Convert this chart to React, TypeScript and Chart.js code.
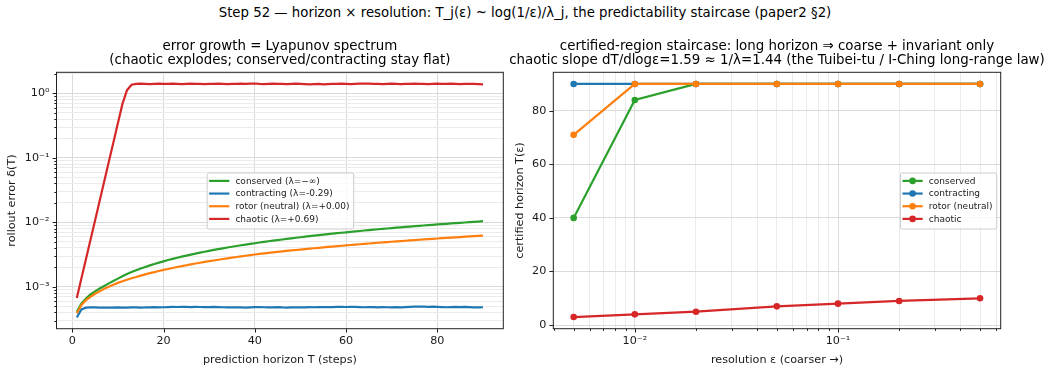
import React, { useEffect, useRef } from 'react';
import { Chart, registerables } from 'chart.js';

Chart.register(...registerables);

const FONT = '"DejaVu Sans", "Liberation Sans", sans-serif';
const GREEN = '#2ca02c';
const BLUE = '#1f77b4';
const ORANGE = '#ff7f0e';
const RED = '#d62728';
const GRID_MAJOR = '#dadada';
const GRID_MINOR = '#ebebeb';
const TEXT = '#1a1a1a';

const suptitle = 'Step 52 — horizon × resolution: T_j(ε) ~ log(1/ε)/λ_j, the predictability staircase (paper2 §2)';
const leftTitles = ['error growth = Lyapunov spectrum', '(chaotic explodes; conserved/contracting stay flat)'];
const rightTitles = [
  'certified-region staircase: long horizon ⇒ coarse + invariant only',
  'chaotic slope dT/dlogε=1.59 ≈ 1/λ=1.44 (the Tuibei-tu / I-Ching long-range law)',
];

// ---------- left panel data ----------
const horizonT = [
  1, 2, 3, 4, 5, 6, 7, 8, 9, 10,
  11, 12, 13, 14, 15, 16, 17, 18, 19, 20,
  21, 22, 23, 24, 25, 26, 27, 28, 29, 30,
  31, 32, 33, 34, 35, 36, 37, 38, 39, 40,
  41, 42, 43, 44, 45, 46, 47, 48, 49, 50,
  51, 52, 53, 54, 55, 56, 57, 58, 59, 60,
  61, 62, 63, 64, 65, 66, 67, 68, 69, 70,
  71, 72, 73, 74, 75, 76, 77, 78, 79, 80,
  81, 82, 83, 84, 85, 86, 87, 88, 89, 90,
];

const conservedErr = [
  0.41e-3, 0.55e-3, 0.66e-3, 0.76e-3, 0.85e-3, 0.94e-3, 1.03e-3, 1.13e-3, 1.23e-3, 1.34e-3,
  1.46e-3, 1.58e-3, 1.69e-3, 1.81e-3, 1.92e-3, 2.03e-3, 2.15e-3, 2.26e-3, 2.37e-3, 2.48e-3,
  2.60e-3, 2.71e-3, 2.82e-3, 2.94e-3, 3.05e-3, 3.16e-3, 3.27e-3, 3.39e-3, 3.50e-3, 3.61e-3,
  3.73e-3, 3.84e-3, 3.95e-3, 4.07e-3, 4.18e-3, 4.29e-3, 4.41e-3, 4.52e-3, 4.63e-3, 4.74e-3,
  4.86e-3, 4.97e-3, 5.08e-3, 5.20e-3, 5.31e-3, 5.42e-3, 5.54e-3, 5.65e-3, 5.76e-3, 5.87e-3,
  5.99e-3, 6.10e-3, 6.21e-3, 6.33e-3, 6.44e-3, 6.55e-3, 6.67e-3, 6.78e-3, 6.89e-3, 7.00e-3,
  7.12e-3, 7.23e-3, 7.34e-3, 7.46e-3, 7.57e-3, 7.68e-3, 7.80e-3, 7.91e-3, 8.02e-3, 8.14e-3,
  8.25e-3, 8.36e-3, 8.47e-3, 8.59e-3, 8.70e-3, 8.81e-3, 8.93e-3, 9.04e-3, 9.15e-3, 9.27e-3,
  9.38e-3, 9.49e-3, 9.60e-3, 9.72e-3, 9.83e-3, 9.94e-3, 10.06e-3, 10.17e-3, 10.28e-3, 10.40e-3,
];

const contractingErr = [
  3.35e-4, 4.45e-4, 4.75e-4, 4.80e-4, 4.78e-4, 4.76e-4, 4.77e-4, 4.75e-4, 4.76e-4, 4.78e-4,
  4.77e-4, 4.75e-4, 4.78e-4, 4.80e-4, 4.77e-4, 4.78e-4, 4.81e-4, 4.83e-4, 4.80e-4, 4.82e-4,
  4.85e-4, 4.88e-4, 4.86e-4, 4.90e-4, 4.87e-4, 4.84e-4, 4.88e-4, 4.86e-4, 4.83e-4, 4.85e-4,
  4.87e-4, 4.84e-4, 4.82e-4, 4.80e-4, 4.78e-4, 4.81e-4, 4.79e-4, 4.76e-4, 4.80e-4, 4.83e-4,
  4.85e-4, 4.82e-4, 4.79e-4, 4.80e-4, 4.83e-4, 4.78e-4, 4.76e-4, 4.80e-4, 4.82e-4, 4.78e-4,
  4.81e-4, 4.84e-4, 4.82e-4, 4.85e-4, 4.83e-4, 4.86e-4, 4.84e-4, 4.87e-4, 4.88e-4, 4.86e-4,
  4.89e-4, 4.87e-4, 4.84e-4, 4.82e-4, 4.85e-4, 4.83e-4, 4.81e-4, 4.84e-4, 4.82e-4, 4.80e-4,
  4.83e-4, 4.81e-4, 4.84e-4, 4.88e-4, 4.93e-4, 4.95e-4, 4.92e-4, 4.89e-4, 4.92e-4, 4.88e-4,
  4.85e-4, 4.82e-4, 4.84e-4, 4.87e-4, 4.85e-4, 4.88e-4, 4.84e-4, 4.81e-4, 4.80e-4, 4.82e-4,
];

const rotorErr = [
  0.39e-3, 0.52e-3, 0.62e-3, 0.70e-3, 0.78e-3, 0.85e-3, 0.93e-3, 1.00e-3, 1.08e-3, 1.15e-3,
  1.22e-3, 1.29e-3, 1.36e-3, 1.42e-3, 1.49e-3, 1.56e-3, 1.63e-3, 1.69e-3, 1.76e-3, 1.83e-3,
  1.89e-3, 1.96e-3, 2.03e-3, 2.09e-3, 2.16e-3, 2.23e-3, 2.30e-3, 2.36e-3, 2.43e-3, 2.50e-3,
  2.56e-3, 2.63e-3, 2.70e-3, 2.76e-3, 2.83e-3, 2.90e-3, 2.97e-3, 3.03e-3, 3.10e-3, 3.17e-3,
  3.23e-3, 3.29e-3, 3.35e-3, 3.41e-3, 3.47e-3, 3.54e-3, 3.60e-3, 3.66e-3, 3.72e-3, 3.78e-3,
  3.84e-3, 3.90e-3, 3.96e-3, 4.02e-3, 4.08e-3, 4.15e-3, 4.21e-3, 4.27e-3, 4.33e-3, 4.39e-3,
  4.45e-3, 4.51e-3, 4.57e-3, 4.63e-3, 4.69e-3, 4.76e-3, 4.82e-3, 4.88e-3, 4.94e-3, 5.00e-3,
  5.06e-3, 5.12e-3, 5.18e-3, 5.24e-3, 5.30e-3, 5.37e-3, 5.43e-3, 5.49e-3, 5.55e-3, 5.61e-3,
  5.67e-3, 5.73e-3, 5.79e-3, 5.85e-3, 5.91e-3, 5.98e-3, 6.04e-3, 6.10e-3, 6.16e-3, 6.22e-3,
];

const chaoticErr = [
  0.67e-3, 1.34e-3, 2.68e-3, 5.36e-3, 1.07e-2, 2.14e-2, 4.29e-2, 8.58e-2, 0.172, 0.343,
  0.686, 1.12, 1.36, 1.40, 1.41, 1.40, 1.39, 1.40, 1.41, 1.40,
  1.40, 1.41, 1.40, 1.39, 1.40, 1.41, 1.40, 1.40, 1.39, 1.40,
  1.40, 1.41, 1.40, 1.39, 1.40, 1.40, 1.41, 1.40, 1.41, 1.42,
  1.40, 1.39, 1.40, 1.41, 1.40, 1.40, 1.39, 1.40, 1.41, 1.40,
  1.39, 1.38, 1.39, 1.40, 1.38, 1.39, 1.40, 1.40, 1.41, 1.40,
  1.39, 1.40, 1.41, 1.42, 1.41, 1.40, 1.40, 1.39, 1.40, 1.41,
  1.40, 1.39, 1.40, 1.40, 1.41, 1.40, 1.40, 1.39, 1.40, 1.41,
  1.40, 1.40, 1.41, 1.40, 1.39, 1.40, 1.40, 1.40, 1.39, 1.38,
];

const leftLabels = ['conserved (λ=−∞)', 'contracting (λ=-0.29)', 'rotor (neutral) (λ=+0.00)', 'chaotic (λ=+0.69)'];
const leftXTicks = [0, 20, 40, 60, 80];

// ---------- right panel data ----------
const resolutionEps = [0.005, 0.01, 0.02, 0.05, 0.1, 0.2, 0.5];
const conservedHorizon = [40, 84, 90, 90, 90, 90, 90];
const contractingHorizon = [90, 90, 90, 90, 90, 90, 90];
const rotorHorizon = [71, 90, 90, 90, 90, 90, 90];
const chaoticHorizon = [3, 4, 5, 7, 8, 9, 10];
const rightLabels = ['conserved', 'contracting', 'rotor (neutral)', 'chaotic'];
const rightYTicks = [0, 20, 40, 60, 80];

const logMantissas = [1, 2, 3, 4, 5, 6, 7, 8, 9];

// ---------- helpers ----------
const SUP: Record<string, string> = {
  '-': '⁻', '0': '⁰', '1': '¹', '2': '²', '3': '³', '4': '⁴', '5': '⁵', '6': '⁶', '7': '⁷', '8': '⁸', '9': '⁹',
};
const isPow10 = (v: number) => Math.abs(Math.log10(v) - Math.round(Math.log10(v))) < 1e-9;
const pow10Label = (v: number) => {
  const e = Math.round(Math.log10(v));
  return '10' + String(e).split('').map((c) => SUP[c]).join('');
};
const logTicks = (min: number, max: number) => {
  const out: { value: number; major: boolean }[] = [];
  for (let e = Math.floor(Math.log10(min)); e <= Math.ceil(Math.log10(max)); e++) {
    for (const m of logMantissas) {
      const v = parseFloat((m * Math.pow(10, e)).toPrecision(6));
      if (v >= min && v <= max) out.push({ value: v, major: m === 1 });
    }
  }
  return out;
};

type LegendEntry = { label: string; color: string; marker: boolean };

const TITLE_SIZE = 13.4;
const TICK_SIZE = 11.2;
const LEGEND_SIZE = 9;

const decorPlugin = (titles: string[], legend: LegendEntry[], place: 'center' | 'right') => ({
  id: 'decor',
  afterDraw(chart: any) {
    const { ctx, chartArea: a } = chart;
    ctx.save();
    // tick marks
    ctx.strokeStyle = '#222';
    ctx.lineWidth = 1;
    const xs = chart.scales.x;
    const ys = chart.scales.y;
    for (const t of xs.ticks) {
      const px = Math.round(xs.getPixelForValue(t.value)) + 0.5;
      if (px < a.left - 1 || px > a.right + 1) continue;
      const len = t.major === false ? 2.2 : 3.9;
      ctx.beginPath();
      ctx.moveTo(px, a.bottom);
      ctx.lineTo(px, a.bottom + len);
      ctx.stroke();
    }
    for (const t of ys.ticks) {
      const py = Math.round(ys.getPixelForValue(t.value)) + 0.5;
      if (py < a.top - 1 || py > a.bottom + 1) continue;
      const len = t.major === false ? 2.2 : 3.9;
      ctx.beginPath();
      ctx.moveTo(a.left, py);
      ctx.lineTo(a.left - len, py);
      ctx.stroke();
    }
    // frame
    ctx.strokeStyle = '#222';
    ctx.lineWidth = 1;
    ctx.strokeRect(a.left, a.top, a.right - a.left, a.bottom - a.top);

    // titles
    ctx.fillStyle = '#000';
    ctx.font = `${TITLE_SIZE}px ${FONT}`;
    ctx.textAlign = 'center';
    ctx.textBaseline = 'middle';
    const cx = (a.left + a.right) / 2;
    ctx.fillText(titles[0], cx, a.top - 25.5);
    ctx.fillText(titles[1], cx, a.top - 11.5);

    // legend
    const em = LEGEND_SIZE;
    ctx.font = `${em}px ${FONT}`;
    ctx.textAlign = 'left';
    const pad = 0.4 * em;
    const handle = 2 * em;
    const gap = 0.8 * em;
    const rowH = 12.67;
    const topOff = 8.4;
    const botOff = 9.6;
    const tw = Math.max(...legend.map((l) => ctx.measureText(l.label).width));
    const w = pad * 2 + handle + gap + tw;
    const h = topOff + (legend.length - 1) * rowH + botOff;
    const cy = (a.top + a.bottom) / 2;
    const x0 = place === 'center' ? cx - w / 2 : a.right - 0.5 * em - w;
    const y0 = cy - h / 2;
    ctx.beginPath();
    if (ctx.roundRect) ctx.roundRect(x0 + 0.5, y0 + 0.5, w, h, 2);
    else ctx.rect(x0 + 0.5, y0 + 0.5, w, h);
    ctx.fillStyle = 'rgba(255,255,255,0.8)';
    ctx.fill();
    ctx.strokeStyle = '#cccccc';
    ctx.lineWidth = 1;
    ctx.stroke();
    legend.forEach((l, i) => {
      const yc = y0 + topOff + i * rowH;
      ctx.strokeStyle = l.color;
      ctx.lineWidth = 2.2;
      ctx.lineCap = 'square';
      ctx.beginPath();
      ctx.moveTo(x0 + pad, yc);
      ctx.lineTo(x0 + pad + handle, yc);
      ctx.stroke();
      if (l.marker) {
        ctx.fillStyle = l.color;
        ctx.beginPath();
        ctx.arc(x0 + pad + handle / 2, yc, 3.3, 0, Math.PI * 2);
        ctx.fill();
      }
      ctx.fillStyle = TEXT;
      ctx.textBaseline = 'middle';
      ctx.fillText(l.label, x0 + pad + handle + gap, yc + 0.5);
    });
    ctx.restore();
  },
});

const tickFont = { family: FONT, size: TICK_SIZE };
const gridColor = (c: any) => (c.tick && c.tick.major === false ? GRID_MINOR : GRID_MAJOR);

const lineDs = (label: string, xs: number[], ys: number[], color: string, order: number, points: boolean) => ({
  label,
  data: xs.map((x, i) => ({ x, y: ys[i] })),
  borderColor: color,
  backgroundColor: color,
  borderWidth: 2.2,
  pointRadius: points ? 3.3 : 0,
  pointHoverRadius: points ? 3.3 : 0,
  pointBorderWidth: 0,
  pointBackgroundColor: color,
  tension: 0,
  fill: false,
  order,
});

function leftConfig(): any {
  const yMin = 2.24e-4;
  const yMax = 2.12;
  return {
    type: 'line',
    data: {
      datasets: [
        lineDs(leftLabels[0], horizonT, conservedErr, GREEN, 3, false),
        lineDs(leftLabels[1], horizonT, contractingErr, BLUE, 2, false),
        lineDs(leftLabels[2], horizonT, rotorErr, ORANGE, 1, false),
        lineDs(leftLabels[3], horizonT, chaoticErr, RED, 0, false),
      ],
    },
    options: {
      animation: false,
      responsive: false,
      devicePixelRatio: 1,
      events: [],
      layout: { padding: { left: 0, right: 11.7, top: 72.3, bottom: 0 } },
      plugins: { legend: { display: false }, tooltip: { enabled: false }, title: { display: false } },
      scales: {
        x: {
          type: 'linear',
          bounds: 'data',
          min: -3.45,
          max: 94.45,
          afterBuildTicks: (s: any) => {
            s.ticks = leftXTicks.map((v) => ({ value: v, major: true }));
          },
          afterFit: (s: any) => {
            s.height = 42.3;
          },
          grid: { color: gridColor, lineWidth: 1, drawTicks: false },
          border: { display: false },
          ticks: { font: tickFont, color: TEXT, padding: 6, maxRotation: 0, autoSkip: false, callback: (v: number) => String(v) },
          title: {
            display: true,
            text: 'prediction horizon T (steps)',
            font: tickFont,
            color: TEXT,
            padding: { top: 0, bottom: 4.3 },
          },
        },
        y: {
          type: 'logarithmic',
          bounds: 'data',
          min: yMin,
          max: yMax,
          afterBuildTicks: (s: any) => {
            s.ticks = logTicks(yMin, yMax);
          },
          afterFit: (s: any) => {
            s.width = 56.5;
          },
          grid: { color: gridColor, lineWidth: 1, drawTicks: false },
          border: { display: false },
          ticks: {
            font: tickFont,
            color: TEXT,
            padding: 7,
            autoSkip: false,
            callback: (v: number) => (isPow10(v) ? pow10Label(v) : ''),
          },
          title: {
            display: true,
            text: 'rollout error δ(T)',
            font: tickFont,
            color: TEXT,
            padding: { top: 5.0, bottom: 0 },
          },
        },
      },
    },
    plugins: [
      decorPlugin(
        leftTitles,
        [
          { label: leftLabels[0], color: GREEN, marker: false },
          { label: leftLabels[1], color: BLUE, marker: false },
          { label: leftLabels[2], color: ORANGE, marker: false },
          { label: leftLabels[3], color: RED, marker: false },
        ],
        'center'
      ),
    ],
  };
}

function rightConfig(): any {
  const xMin = 3.97e-3;
  const xMax = 0.632;
  return {
    type: 'line',
    data: {
      datasets: [
        lineDs(rightLabels[0], resolutionEps, conservedHorizon, GREEN, 3, true),
        lineDs(rightLabels[1], resolutionEps, contractingHorizon, BLUE, 2, true),
        lineDs(rightLabels[2], resolutionEps, rotorHorizon, ORANGE, 1, true),
        lineDs(rightLabels[3], resolutionEps, chaoticHorizon, RED, 0, true),
      ],
    },
    options: {
      animation: false,
      responsive: false,
      devicePixelRatio: 1,
      events: [],
      layout: { padding: { left: 0, right: 49.3, top: 72.3, bottom: 0 } },
      plugins: { legend: { display: false }, tooltip: { enabled: false }, title: { display: false } },
      scales: {
        x: {
          type: 'logarithmic',
          bounds: 'data',
          min: xMin,
          max: xMax,
          afterBuildTicks: (s: any) => {
            s.ticks = logTicks(xMin, xMax);
          },
          afterFit: (s: any) => {
            s.height = 42.3;
          },
          grid: { color: gridColor, lineWidth: 1, drawTicks: false },
          border: { display: false },
          ticks: {
            font: tickFont,
            color: TEXT,
            padding: 6,
            maxRotation: 0,
            autoSkip: false,
            callback: (v: number) => (isPow10(v) ? pow10Label(v) : ''),
          },
          title: {
            display: true,
            text: 'resolution ε (coarser →)',
            font: tickFont,
            color: TEXT,
            padding: { top: 0, bottom: 4.0 },
          },
        },
        y: {
          type: 'linear',
          bounds: 'data',
          min: -1.35,
          max: 94.35,
          afterBuildTicks: (s: any) => {
            s.ticks = rightYTicks.map((v) => ({ value: v, major: true }));
          },
          afterFit: (s: any) => {
            s.width = 48.3;
          },
          grid: { color: gridColor, lineWidth: 1, drawTicks: false },
          border: { display: false },
          ticks: { font: tickFont, color: TEXT, padding: 7, autoSkip: false, callback: (v: number) => String(v) },
          title: {
            display: true,
            text: 'certified horizon T(ε)',
            font: tickFont,
            color: TEXT,
            padding: { top: 8.3, bottom: 0 },
          },
        },
      },
    },
    plugins: [
      decorPlugin(
        rightTitles,
        [
          { label: rightLabels[0], color: GREEN, marker: true },
          { label: rightLabels[1], color: BLUE, marker: true },
          { label: rightLabels[2], color: ORANGE, marker: true },
          { label: rightLabels[3], color: RED, marker: true },
        ],
        'right'
      ),
    ],
  };
}

export default function App() {
  const leftRef = useRef<HTMLCanvasElement>(null);
  const rightRef = useRef<HTMLCanvasElement>(null);

  useEffect(() => {
    const c1 = new Chart(leftRef.current as HTMLCanvasElement, leftConfig());
    const c2 = new Chart(rightRef.current as HTMLCanvasElement, rightConfig());
    return () => {
      c1.destroy();
      c2.destroy();
    };
  }, []);

  return (
    <div style={{ position: 'absolute', left: 0, top: 0, width: 1050, height: 371, background: '#fff', overflow: 'hidden' }}>
      <div
        style={{
          position: 'absolute',
          left: 0,
          top: 5,
          width: 1050,
          textAlign: 'center',
          fontFamily: FONT,
          fontSize: 13.3,
          lineHeight: '16px',
          color: '#000',
          whiteSpace: 'nowrap',
        }}
      >
        {suptitle}
      </div>
      <canvas ref={leftRef} width={515} height={371} style={{ position: 'absolute', left: 0, top: 0, width: 515, height: 371 }} />
      <canvas ref={rightRef} width={545} height={371} style={{ position: 'absolute', left: 505, top: 0, width: 545, height: 371 }} />
    </div>
  );
}
